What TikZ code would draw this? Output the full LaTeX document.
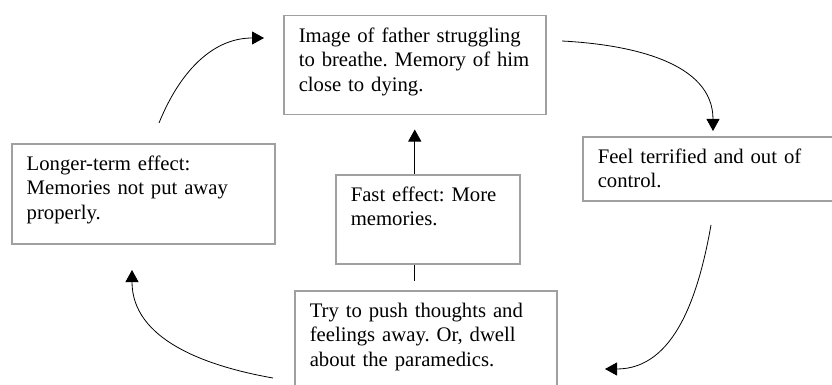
\documentclass[tikz,border=0pt]{standalone}
\usepackage{fontspec}
\setmainfont{Liberation Serif}
\usetikzlibrary{arrows.meta}
\definecolor{boxgray}{RGB}{160,160,160}
\newcommand{\boxfont}{\fontsize{20.7}{24.2}\selectfont\frenchspacing}
\tikzset{>={Triangle[width=13pt,length=12pt]}}
\tikzset{box/.style={draw=boxgray, line width=1.5pt, fill=white, anchor=north west,
    align=left, inner xsep=15pt, inner ysep=0pt, text height=27pt, font=\boxfont},
  link/.style={line width=0.8pt, ->}}

\begin{document}
\frenchspacing
\begin{tikzpicture}[x=1pt,y=1pt]
\useasboundingbox (0,0) rectangle (832,-385);
\clip (0,0) rectangle (832,-385);

\node[box, text width=232pt, text depth=72pt] (img) at (283,-15)
  {Image of father struggling\\\mbox{to breathe. Memory of him}\\close to dying.};
\node[box, text width=222pt, text depth=37pt] (feel) at (582,-136)
  {Feel terrified and out of\\control.};
\node[box, text width=233pt, text depth=73pt] (long) at (11,-143)
  {Longer-term effect:\\Memories not put away\\properly.};
\node[box, text width=232pt, text depth=83pt] (push) at (294,-290)
  {Try to push thoughts and\\feelings away. Or, dwell\\about the paramedics.};

% straight arrow, runs behind the fast box
\draw[link, shorten <=9pt, shorten >=14pt] (img.south |- push.north) -- (img.south);

\node[box, text width=154pt, text depth=62pt] (fast) at (335,-174)
  {Fast effect: More\\memories.};

% free ends of the arcs
\coordinate (longout) at (159,-123);
\coordinate (imgin) at (264,-38);
\coordinate (imgout) at (562,-41);
\coordinate (feelin) at (713,-131);
\coordinate (feelout) at (711,-225);
\coordinate (pushin) at (605,-369);
\coordinate (pushout) at (273,-378);
\coordinate (longin) at (132,-270);

\draw[link] (longout) to[out=68, in=180] (imgin);
\draw[link] (imgout) to[out=-3, in=90] (feelin);
\draw[link] (feelout) to[out=-100, in=0] (pushin);
\draw[link] (pushout) to[out=170, in=-90] (longin);
\end{tikzpicture}
\end{document}
